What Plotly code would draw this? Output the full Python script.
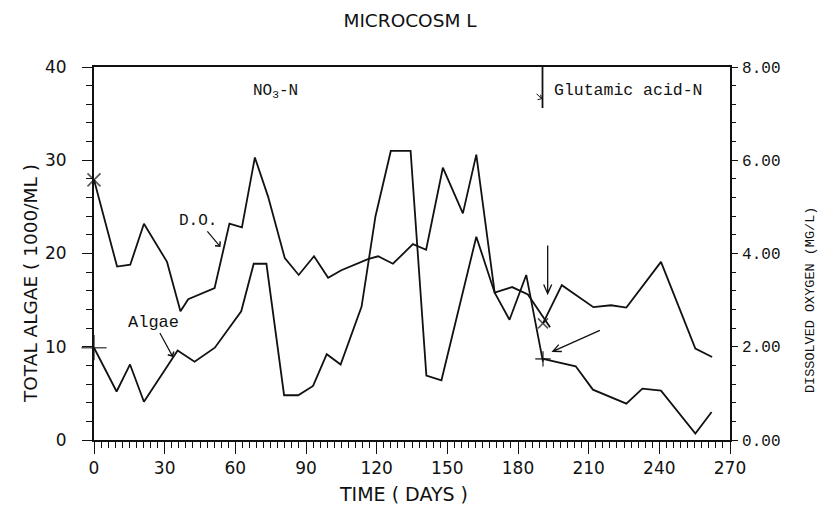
import plotly.graph_objects as go

# ---- Microcosm L: total algae and dissolved oxygen over time ----
# First period (nitrate nitrogen supply)
algae_days_1 = [0, 9.6, 15.3, 21.2, 35.5, 42.7, 51.3, 62.5, 67.8, 73.2, 80.7, 86.7, 93.0,
                98.8, 104.7, 113.6, 119.5, 126.0, 134.4, 141.1, 147.5, 162.3, 170.1,
                176.4, 183.5, 190.6]
algae_1 = [9.9, 5.2, 8.1, 4.1, 9.6, 8.4, 9.9, 13.8, 18.9, 18.9, 4.8, 4.8, 5.8,
           9.2, 8.1, 14.3, 24.0, 31.0, 31.0, 6.9, 6.4, 21.8, 15.8,
           12.9, 17.7, 8.4]

do_days_1 = [0, 9.8, 15.4, 21.2, 31.0, 36.7, 40.0, 51.2, 57.5, 62.8, 68.3, 73.9, 81.0,
             86.9, 93.4, 99.4, 105.0, 116.3, 120.6, 126.9, 135.4, 141.0, 148.1, 156.6,
             162.3, 170.1, 177.5, 184.2, 193.6]
do_mgl_1 = [5.58, 3.72, 3.76, 4.64, 3.82, 2.76, 3.02, 3.26, 4.64, 4.56, 6.06, 5.22, 3.90,
            3.54, 3.94, 3.48, 3.64, 3.88, 3.94, 3.78, 4.20, 4.08, 5.84, 4.86,
            6.12, 3.16, 3.28, 3.12, 2.42]

# Second period (glutamic acid nitrogen supply)
algae_days_2 = [190.6, 204.5, 211.8, 226.0, 232.8, 240.7, 255.3, 262.2]
algae_2 = [8.7, 7.9, 5.4, 3.9, 5.5, 5.3, 0.7, 3.0]

do_days_2 = [190.6, 198.6, 212.0, 219.5, 226.0, 240.7, 255.3, 262.4]
do_mgl_2 = [2.50, 3.32, 2.85, 2.89, 2.84, 3.82, 1.96, 1.78]

# axis tick values
x_ticks = [0, 30, 60, 90, 120, 150, 180, 210, 240, 270]
algae_ticks = [0, 10, 20, 30, 40]
do_ticks = [0, 2, 4, 6, 8]

INK = "#111111"
PLOTTER = "DejaVu Sans"
TYPEWRITER = "Liberation Mono"

fig = go.Figure()

line_style = dict(color=INK, width=1.8)

fig.add_trace(go.Scatter(x=algae_days_1, y=algae_1, mode="lines", line=line_style,
                         name="Algae", showlegend=False, yaxis="y"))
fig.add_trace(go.Scatter(x=do_days_1, y=do_mgl_1, mode="lines", line=line_style,
                         name="D.O.", showlegend=False, yaxis="y2"))
fig.add_trace(go.Scatter(x=algae_days_2, y=algae_2, mode="lines", line=line_style,
                         name="Algae", showlegend=False, yaxis="y"))
fig.add_trace(go.Scatter(x=do_days_2, y=do_mgl_2, mode="lines", line=line_style,
                         name="D.O.", showlegend=False, yaxis="y2"))

# start-of-period markers: + for algae, x for D.O.
fig.add_trace(go.Scatter(x=[algae_days_1[0], algae_days_2[0]], y=[algae_1[0], algae_2[0]],
                         mode="markers", showlegend=False, yaxis="y", cliponaxis=False,
                         marker=dict(symbol="cross-thin", size=[18, 11],
                                     line=dict(color=INK, width=1.6))))
fig.add_trace(go.Scatter(x=[do_days_1[0], do_days_2[0]], y=[do_mgl_1[0], do_mgl_2[0]],
                         mode="markers", showlegend=False, yaxis="y2", cliponaxis=False,
                         marker=dict(symbol="x-thin", size=[13, 10],
                                     line=dict(color=INK, width=1.6))))

# line where the nitrogen source changes, with its small pointer
fig.add_shape(type="line", xref="x", yref="y", x0=190.4, x1=190.4, y0=40, y1=35.6,
              line=dict(color=INK, width=1.8))
arrow_line = dict(color=INK, width=1.3)
fig.add_shape(type="path", xref="x", yref="y", xsizemode="pixel", ysizemode="pixel",
              xanchor=190.0, yanchor=36.6, path="M-5,5 L0,0 M-4,-1 L0,0 L-1,4",
              line=dict(color=INK, width=1.0))
# pointer arrows at the start of the second period
fig.add_shape(type="path", xref="x", yref="y", xsizemode="pixel", ysizemode="pixel",
              xanchor=192.6, yanchor=15.7, path="M0,48 L0,0 M-4,9 L0,0 L4,9",
              line=arrow_line)
fig.add_shape(type="path", xref="x", yref="y", xsizemode="pixel", ysizemode="pixel",
              xanchor=194.8, yanchor=9.5, path="M47,21 L0,0 M5.9,6.8 L0,0 L9,-0.1",
              line=arrow_line)

annotations = [
    dict(x=53.7, y=20.7, xref="x", yref="y", text="D.O.", showarrow=True,
         ax=-22, ay=-26, arrowhead=4, arrowsize=1.1, arrowwidth=1.2, arrowcolor=INK,
         font=dict(family=TYPEWRITER, size=16, color=INK), standoff=0),
    dict(x=33.5, y=8.9, xref="x", yref="y", text="Algae", showarrow=True,
         ax=-19, ay=-35, arrowhead=4, arrowsize=1.1, arrowwidth=1.2, arrowcolor=INK,
         font=dict(family=TYPEWRITER, size=17, color=INK), standoff=0),
    dict(x=77, y=37.4, xref="x", yref="y", text="NO<sub>3</sub>-N", showarrow=False,
         font=dict(family=TYPEWRITER, size=16, color=INK), xanchor="center"),
    dict(x=194.6, y=37.5, xref="x", yref="y", text="Glutamic acid-N", showarrow=False,
         font=dict(family=TYPEWRITER, size=16.5, color=INK), xanchor="left"),
    # axis titles placed as free text so they sit where the plotter drew them
    dict(x=403, y=494, xref="paper", yref="paper", text="TIME ( DAYS )",
         showarrow=False, xanchor="center", yanchor="middle",
         font=dict(family=PLOTTER, size=19, color=INK)),
    dict(x=30, y=284, xref="paper", yref="paper", text="TOTAL ALGAE ( 1000/ML )",
         textangle=-90, showarrow=False, xanchor="center", yanchor="middle",
         font=dict(family=PLOTTER, size=18.5, color=INK)),
    dict(x=810, y=300, xref="paper", yref="paper", text="DISSOLVED OXYGEN (MG/L)",
         textangle=-90, showarrow=False, xanchor="center", yanchor="middle",
         font=dict(family=TYPEWRITER, size=13.5, color=INK)),
]
# convert the pixel anchors of the axis titles to paper fractions
L, R, T, B, W, H = 94, 90, 67, 73, 820, 513
for a in annotations[-3:]:
    a["x"] = (a["x"] - L) / (W - L - R)
    a["y"] = (H - B - a["y"]) / (H - T - B)

fig.update_layout(
    width=W, height=H,
    margin=dict(l=L, r=R, t=T, b=B),
    paper_bgcolor="white", plot_bgcolor="white",
    title=dict(text="MICROCOSM L", x=0.5, xanchor="center", y=1 - 21 / H,
               yanchor="middle", yref="container",
               font=dict(family=PLOTTER, size=18.5, color=INK)),
    xaxis=dict(
        range=[0, 270], tickvals=x_ticks, ticktext=[str(v) for v in x_ticks],
        showline=True, linecolor=INK, linewidth=1.8, mirror=True,
        ticks="outside", ticklen=12, tickwidth=1.4, tickcolor=INK,
        minor=dict(dtick=3, ticks="outside", ticklen=6, tickwidth=1.2, tickcolor=INK),
        showgrid=False, zeroline=False,
        tickfont=dict(family=PLOTTER, size=17, color=INK),
    ),
    yaxis=dict(
        range=[0, 40], tickvals=algae_ticks, ticktext=[str(v) for v in algae_ticks],
        showline=True, linecolor=INK, linewidth=1.8,
        ticks="outside", ticklen=10, tickwidth=1.4, tickcolor=INK,
        minor=dict(dtick=2, ticks="outside", ticklen=6, tickwidth=1.2, tickcolor=INK),
        showgrid=False, zeroline=False, ticklabelstandoff=12,
        tickfont=dict(family=PLOTTER, size=17, color=INK),
    ),
    yaxis2=dict(
        range=[0, 8], overlaying="y", side="right",
        tickvals=do_ticks, ticktext=[f"{v:.2f}" for v in do_ticks],
        showline=True, linecolor=INK, linewidth=1.8,
        ticks="outside", ticklen=6, tickwidth=1.4, tickcolor=INK,
        minor=dict(dtick=0.4, ticks="outside", ticklen=4, tickwidth=1.2, tickcolor=INK),
        showgrid=False, zeroline=False, ticklabelstandoff=1,
        tickfont=dict(family=TYPEWRITER, size=16, color=INK),
    ),
    annotations=annotations,
    showlegend=False,
)

fig.write_html("out.html")
